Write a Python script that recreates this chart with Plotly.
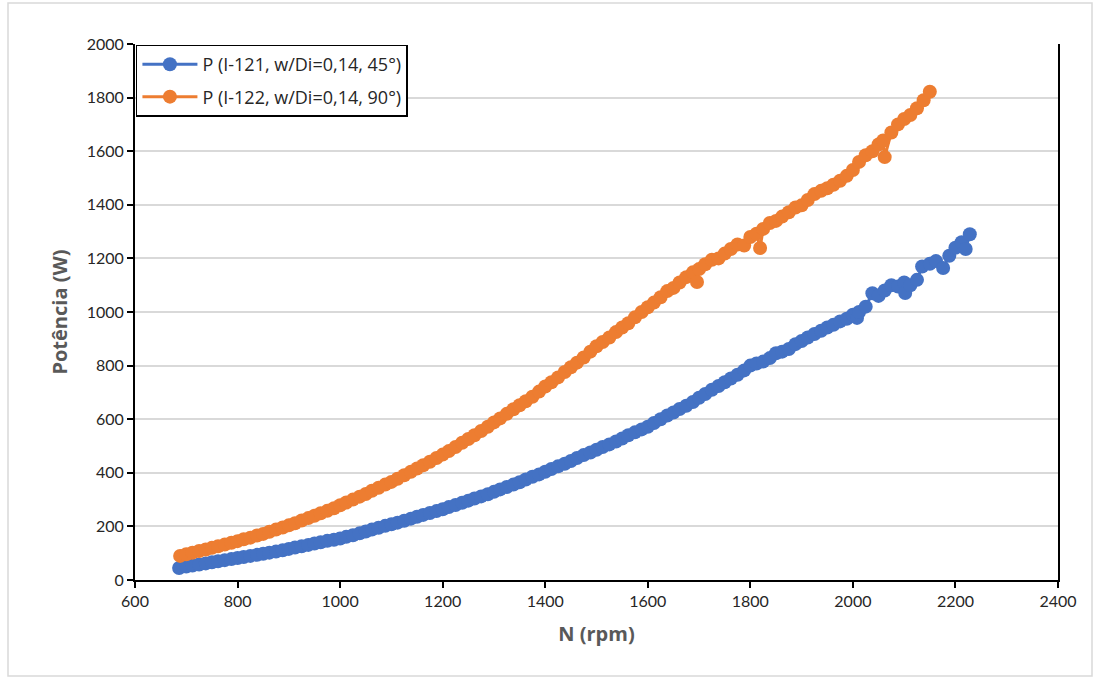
import plotly.graph_objects as go

# Série I-121 (w/Di = 0,14, 45°)
n_45 = [686, 700, 712, 725, 738, 750, 762, 775, 788, 800, 812, 825, 838, 850, 862, 875, 888, 900,
        912, 925, 938, 950, 962, 975, 988, 1000, 1012, 1025, 1038, 1050, 1062, 1075, 1088, 1100,
        1112, 1125, 1138, 1150, 1162, 1175, 1188, 1200, 1212, 1225, 1238, 1250, 1262, 1275, 1288,
        1300, 1312, 1325, 1338, 1350, 1362, 1375, 1388, 1400, 1412, 1425, 1438, 1450, 1462, 1475,
        1488, 1500, 1512, 1525, 1538, 1550, 1562, 1575, 1588, 1600, 1612, 1625, 1638, 1650, 1662,
        1675, 1688, 1700, 1712, 1725, 1738, 1750, 1762, 1775, 1788, 1800, 1812, 1825, 1838, 1850,
        1862, 1875, 1888, 1900, 1912, 1925, 1938, 1950, 1962, 1975, 1988, 2000, 2008, 2012, 2025,
        2038, 2050, 2062, 2075, 2088, 2100, 2102, 2112, 2125, 2135, 2150, 2162, 2176, 2188, 2200,
        2212, 2220, 2228]
p_45 = [45, 50, 54, 58, 62, 66, 70, 74, 78, 82, 86, 90, 94, 98, 102, 106, 111, 116,
        121, 126, 131, 136, 141, 146, 150, 155, 161, 167, 174, 181, 188, 195, 202, 208,
        214, 221, 229, 236, 243, 250, 257, 264, 272, 280, 288, 296, 304, 312, 320,
        329, 338, 347, 356, 365, 375, 385, 394, 404, 414, 424, 434, 444, 455, 466,
        476, 486, 496, 506, 517, 528, 540, 551, 562, 572, 586, 600, 614, 625, 638,
        650, 664, 680, 694, 710, 724, 738, 752, 766, 782, 800, 808, 815, 828, 846,
        852, 862, 880, 892, 905, 918, 930, 942, 952, 965, 975, 990, 978, 1000, 1020,
        1070, 1060, 1080, 1100, 1095, 1110, 1071, 1100, 1120, 1170, 1180, 1190, 1164, 1210, 1240,
        1260, 1235, 1290]

# Série I-122 (w/Di = 0,14, 90°)
n_90 = [688, 700, 712, 725, 738, 750, 762, 775, 788, 800, 812, 825, 838, 850, 862, 875, 888, 900,
        912, 925, 938, 950, 962, 975, 988, 1000, 1012, 1025, 1038, 1050, 1062, 1075, 1088, 1100,
        1112, 1125, 1138, 1150, 1162, 1175, 1188, 1200, 1212, 1225, 1238, 1250, 1262, 1275, 1288,
        1300, 1312, 1325, 1338, 1350, 1362, 1375, 1388, 1400, 1412, 1425, 1438, 1450, 1462, 1475,
        1488, 1500, 1512, 1525, 1538, 1550, 1562, 1575, 1588, 1600, 1612, 1625, 1638, 1650, 1662,
        1675, 1688, 1696, 1700, 1712, 1725, 1738, 1750, 1762, 1775, 1788, 1800, 1812, 1819, 1825,
        1838, 1850, 1862, 1875, 1888, 1900, 1912, 1925, 1938, 1950, 1962, 1975, 1988, 2000, 2012,
        2025, 2038, 2050, 2059, 2062, 2075, 2088, 2100, 2112, 2125, 2138, 2150]
p_90 = [90, 96, 102, 108, 114, 120, 126, 132, 139, 145, 152, 158, 166, 172, 180, 188, 196, 204,
        212, 222, 231, 240, 249, 258, 268, 279, 289, 300, 311, 321, 333, 344, 356, 366,
        378, 391, 404, 416, 428, 441, 455, 468, 481, 496, 512, 526, 540, 556, 572,
        588, 603, 620, 637, 652, 667, 684, 703, 722, 738, 756, 776, 794, 811, 830,
        852, 872, 888, 905, 925, 942, 958, 980, 1000, 1018, 1035, 1055, 1078, 1090, 1110,
        1130, 1148, 1112, 1160, 1178, 1195, 1200, 1218, 1235, 1252, 1248, 1280, 1292, 1239, 1310,
        1332, 1340, 1356, 1372, 1390, 1398, 1418, 1440, 1452, 1462, 1475, 1490, 1508, 1530, 1560,
        1585, 1600, 1625, 1640, 1578, 1670, 1700, 1720, 1735, 1760, 1790, 1822]

names = ["P (I-121, w/Di=0,14, 45°)", "P (I-122, w/Di=0,14, 90°)"]
colors = ["#4472C4", "#ED7D31"]

x_ticks = [600, 800, 1000, 1200, 1400, 1600, 1800, 2000, 2200, 2400]
y_ticks = [0, 200, 400, 600, 800, 1000, 1200, 1400, 1600, 1800, 2000]

fig = go.Figure()
for i, (xs, ys, name, col) in enumerate([(n_45, p_45, names[0], colors[0]),
                                          (n_90, p_90, names[1], colors[1])]):
    fig.add_trace(go.Scatter(
        x=xs, y=ys, mode="lines+markers", name=name, legendgroup=f"g{i}",
        line=dict(color=col, width=3),
        marker=dict(color=col, size=14, line=dict(width=0)),
    ))

tick_font = dict(family="Lato, 'Open Sans', sans-serif", size=16, color="#262626")
title_font = dict(family="'Open Sans', Lato, sans-serif", size=20, color="#595959")

fig.update_layout(
    width=1100, height=680,
    margin=dict(l=135, r=42, t=44, b=100),
    paper_bgcolor="white", plot_bgcolor="white",
    showlegend=True,
    legend=dict(
        x=0.001, y=0.999, xanchor="left", yanchor="top",
        bgcolor="white", bordercolor="black", borderwidth=1.5,
        font=dict(family="'Open Sans', Lato, sans-serif", size=18, color="#262626"),
        itemwidth=55, tracegroupgap=6,
    ),
    xaxis=dict(
        range=[600, 2400], tickvals=x_ticks, ticktext=[str(v) for v in x_ticks],
        showgrid=False, zeroline=False,
        showline=True, linecolor="black", linewidth=2,
        ticks="outside", ticklen=6, tickwidth=2, tickcolor="black",
        tickfont=tick_font,
        title=dict(text="<b>N (rpm)</b>", font=title_font, standoff=18),
    ),
    yaxis=dict(
        range=[0, 2000], tickvals=y_ticks, ticktext=[str(v) for v in y_ticks],
        showgrid=True, gridcolor="#d9d9d9", gridwidth=1.5, zeroline=False,
        showline=True, linecolor="black", linewidth=2, mirror=True,
        ticks="outside", ticklen=6, tickwidth=2, tickcolor="black",
        tickfont=tick_font,
        title=dict(text="<b>Potência (W)</b>", font=title_font, standoff=14),
    ),
)

# light frame around the whole chart
fig.add_shape(type="rect", xref="paper", yref="paper",
              x0=(8 - 135) / 923, x1=(1092 - 135) / 923,
              y0=(580 - 676) / 536, y1=(580 - 3) / 536,
              line=dict(color="#d9d9d9", width=1.5), layer="below")

fig.write_html("out.html")
